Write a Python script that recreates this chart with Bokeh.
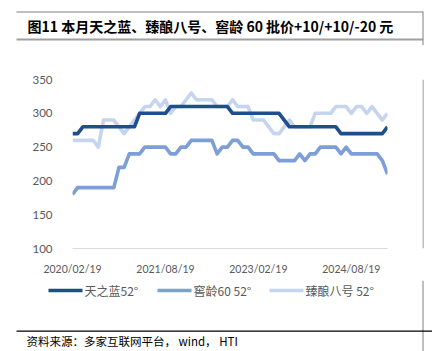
from bokeh.plotting import figure
from bokeh.layouts import column, row
from bokeh.models import Range1d, FixedTicker
from bokeh.core.properties import value
from bokeh.embed import file_html
from bokeh.resources import INLINE

# ---- data ----
months = []
yy, mm = 2020, 2
for _ in range(62):
    months.append(f"{yy}/{mm:02d}/19")
    mm += 1
    if mm > 12:
        mm = 1
        yy += 1

tick_labels = ["2020/02/19", "2021/08/19", "2023/02/19", "2024/08/19"]

tianzhilan = [270, 270, 280, 280, 280, 280, 280, 280, 280, 280, 280, 280, 280,
              300, 300, 300, 300, 300, 300,
              310, 310, 310, 310, 310, 310, 310, 310, 310, 310, 310, 310,
              300, 300, 300, 300, 300, 300, 300, 300, 300, 300,
              290, 280, 280, 280, 280, 280, 280, 280, 280, 280, 280,
              270, 270, 270, 270, 270, 270, 270, 270, 270, 280]

jiaoling60 = [180, 190, 190, 190, 190, 190, 190, 190, 190, 220, 220, 240, 240, 240,
              250, 250, 250, 250, 250, 240, 240, 250, 250, 260, 260, 260, 260, 260,
              240, 250, 250, 260, 260, 250, 250, 240, 240, 240, 240, 240,
              230, 230, 230, 230, 240, 230, 240, 240, 250, 250, 250, 250,
              240, 250, 240, 240, 240, 240, 240, 240, 230, 210]

zhenniang8 = [260, 260, 260, 260, 260, 250, 290, 290, 290, 280, 270, 280, 290, 300,
              310, 310, 320, 310, 320, 300, 310, 310, 320, 330, 320, 320, 320, 320,
              310, 310, 310, 320, 310, 310, 310, 290, 290, 290, 280, 270, 270, 280,
              290, 280, 280, 280, 280, 300, 300, 300, 300, 310, 310, 310,
              300, 310, 310, 300, 310, 300, 290, 300]

series_names = ["天之蓝52°", "窖龄60 52°", "臻酿八号 52°"]
colors = ["#1F4E8C", "#7D9ED6", "#C5D5EF"]
title_text = "图11 本月天之蓝、臻酿八号、窖龄 60 批价+10/+10/-20 元"
source_text = "资料来源：多家互联网平台， wind， HTI"

CJK = "Noto Sans CJK SC"
LAT = "Lato"
VLINE = "#7F7F7F"


def blank_fig(w, h):
    f = figure(width=w, height=h, output_backend="svg", toolbar_location=None,
               x_range=Range1d(0, w), y_range=Range1d(h, 0),
               x_axis_location=None, y_axis_location=None,
               min_border=0, min_border_left=0, min_border_right=0,
               min_border_top=0, min_border_bottom=0)
    f.outline_line_color = None
    f.xgrid.visible = False
    f.ygrid.visible = False
    f.background_fill_color = "white"
    f.border_fill_color = "white"
    return f


# ---- top: title ----
top = blank_fig(432, 45)
top.segment(x0=[16], y0=[11.5], x1=[422.5], y1=[11.5], line_color="#7F7F7F", line_width=1)
top.segment(x0=[16], y0=[39], x1=[422.5], y1=[39], line_color="#A0A0A0", line_width=2)
top.segment(x0=[422.5], y0=[11], x1=[422.5], y1=[45], line_color=VLINE, line_width=1)
top.text(x=[27], y=[25.5], text=[title_text], text_font=value(CJK),
         text_font_style="bold", text_font_size="14px", text_color="#000000",
         text_baseline="middle", text_align="left")

# ---- chart ----
x = list(range(len(months)))
tick_pos = [months.index(t) for t in tick_labels]

p = figure(width=422, height=235, output_backend="svg", toolbar_location=None,
           x_range=Range1d(0, len(months) - 1), y_range=Range1d(100, 350),
           min_border_left=72, min_border_right=35, min_border_top=34,
           min_border_bottom=32)
p.outline_line_color = None
p.xgrid.visible = False
p.ygrid.visible = False
p.background_fill_color = "white"
p.border_fill_color = "white"

for vals, c in zip([zhenniang8, jiaoling60, tianzhilan], colors[::-1]):
    p.line(x, vals, line_color=c, line_width=3.6, line_join="round")

p.xaxis.ticker = FixedTicker(ticks=tick_pos)
p.xaxis.major_label_overrides = {tp: t for tp, t in zip(tick_pos, tick_labels)}
p.xaxis.axis_line_color = "#D9D9D9"
p.xaxis.major_tick_line_color = None
p.xaxis.minor_tick_line_color = None
p.xaxis.major_label_text_font = LAT
p.xaxis.major_label_text_font_size = "10.5px"
p.xaxis.major_label_text_color = "#595959"
p.xaxis.major_label_standoff = 8

p.yaxis.ticker = FixedTicker(ticks=[100, 150, 200, 250, 300, 350])
p.yaxis.axis_line_color = None
p.yaxis.major_tick_line_color = None
p.yaxis.minor_tick_line_color = None
p.yaxis.major_label_text_font = LAT
p.yaxis.major_label_text_font_size = "11.5px"
p.yaxis.major_label_text_color = "#595959"
p.yaxis.major_label_standoff = 14

strip = blank_fig(10, 235)
strip.segment(x0=[0.5], y0=[0], x1=[0.5], y1=[235], line_color=VLINE, line_width=1)

# ---- bottom: legend + source ----
bot = blank_fig(432, 71)
leg_x = [48, 157, 269]
for lx, name, c in zip(leg_x, series_names, colors):
    bot.segment(x0=[lx], y0=[10], x1=[lx + 34], y1=[10], line_color=c, line_width=3.5)
    bot.text(x=[lx + 36], y=[10], text=[name], text_font=value(CJK),
             text_font_size="12px", text_color="#595959",
             text_baseline="middle", text_align="left")
bot.segment(x0=[422.5], y0=[0], x1=[422.5], y1=[71], line_color=VLINE, line_width=1)
bot.segment(x0=[16], y0=[50.7], x1=[432], y1=[50.7], line_color="#000000", line_width=1.2)
bot.text(x=[26], y=[60], text=[source_text], text_font=value(CJK),
         text_font_size="11.5px", text_color="#000000",
         text_baseline="middle", text_align="left")

layout = column(top, row(p, strip), bot)
open("out.html", "w").write(file_html(layout, INLINE))
